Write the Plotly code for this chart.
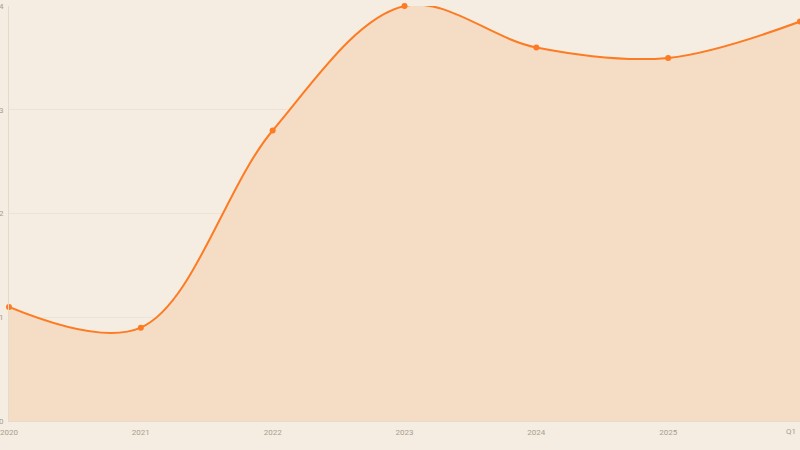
import plotly.graph_objects as go

categories = ["2020", "2021", "2022", "2023", "2024", "2025", "Q1"]
values = [1.10, 0.90, 2.80, 4.00, 3.60, 3.50, 3.85]
y_ticks = [0, 1, 2, 3, 4]

bg = "#f5ede1"
line_c = "#fd7b22"
fill_c = "#f5dcc4"
grid_c = "#ede2d3"
text_c = "#a89d90"

xs = list(range(len(categories)))

fig = go.Figure()
fig.add_trace(go.Scatter(
    x=xs, y=values,
    mode="lines+markers",
    line=dict(color=line_c, width=2, shape="spline", smoothing=1.0),
    marker=dict(color=line_c, size=6),
    fill="tozeroy", fillcolor=fill_c,
    cliponaxis=False, hoverinfo="skip",
))

# last category label is kept inside the page, as in the reference
ticktext = categories[:-1] + [""]
fig.add_annotation(
    x=xs[-1], y=0, xref="x", yref="y", text=categories[-1],
    showarrow=False, xanchor="right", yanchor="top",
    xshift=-2, yshift=-4, font=dict(size=8, color=text_c),
)

fig.update_layout(
    width=800, height=450,
    margin=dict(l=9, r=0, t=6, b=29),
    paper_bgcolor=bg, plot_bgcolor=bg,
    showlegend=False,
    font=dict(family="Roboto, Liberation Sans, sans-serif", size=8, color=text_c),
    xaxis=dict(
        tickmode="array", tickvals=xs, ticktext=ticktext,
        range=[0, 6.0], showgrid=False, zeroline=False,
        showline=True, linecolor="#e6dacb", linewidth=1,
        ticks="", ticklabelstandoff=3, automargin=False,
        ticklabeloverflow="allow",
    ),
    yaxis=dict(
        tickmode="array", tickvals=y_ticks, range=[0, 4],
        showgrid=True, gridcolor=grid_c, gridwidth=1, zeroline=False,
        showline=True, linecolor="#e6dacb", linewidth=1,
        ticks="", ticklabelstandoff=3, automargin=False,
        ticklabeloverflow="allow",
    ),
)

fig.write_html(
    "out.html",
    config={"displayModeBar": False},
    post_script="document.body.style.margin='0';document.body.style.background='%s';" % bg,
)
